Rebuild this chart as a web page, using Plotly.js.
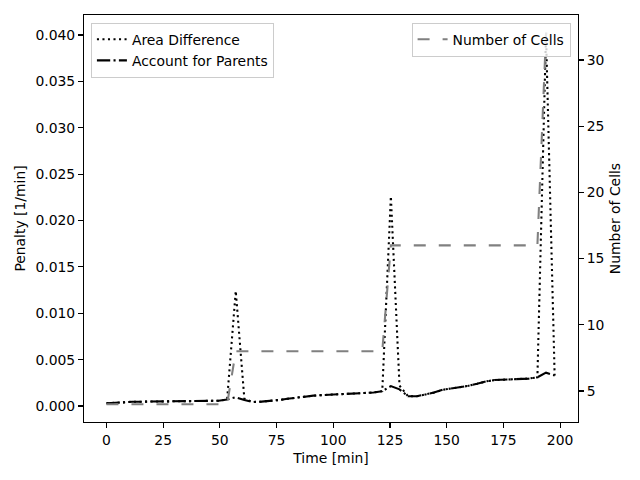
<!DOCTYPE html>
<html>
<head>
<meta charset="utf-8">
<script src="https://cdn.plot.ly/plotly-3.0.1.min.js"></script>
<style>html,body{margin:0;padding:0;background:#fff;}#chart{width:640px;height:480px;}</style>
</head>
<body>
<div id="chart"></div>
<script>
var timeMin = [0, 3.8, 7.6, 11.4, 15.2, 19, 22.8, 26.6, 30.4, 34.2, 38, 41.8, 45.6, 49.4, 53.2, 57, 60.8, 64.6, 68.4, 72.2, 76, 79.8, 83.6, 87.4, 91.2, 95, 98.8, 102.6, 106.4, 110.2, 114, 117.8, 121.6, 125.4, 129.2, 133, 136.8, 140.6, 144.4, 148.2, 152, 155.8, 159.6, 163.4, 167.2, 171, 174.8, 178.6, 182.4, 186.2, 190, 193.8, 197.6];

var areaDifference = [0.00030, 0.00032, 0.00040, 0.00046, 0.00047, 0.00047, 0.00047, 0.00046, 0.00046, 0.00047, 0.00048, 0.00050, 0.00053, 0.00057, 0.00070, 0.01240, 0.00080, 0.00043, 0.00048, 0.00055, 0.00065, 0.00078, 0.00090, 0.00104, 0.00112, 0.00118, 0.00123, 0.00128, 0.00132, 0.00136, 0.00140, 0.00146, 0.00160, 0.02260, 0.00220, 0.00105, 0.00105, 0.00122, 0.00145, 0.00175, 0.00190, 0.00200, 0.00218, 0.00240, 0.00265, 0.00280, 0.00285, 0.00290, 0.00292, 0.00296, 0.00310, 0.04010, 0.00330];

var accountForParents = [0.00030, 0.00032, 0.00040, 0.00046, 0.00047, 0.00047, 0.00047, 0.00046, 0.00046, 0.00047, 0.00048, 0.00050, 0.00053, 0.00057, 0.00070, 0.00095, 0.00065, 0.00043, 0.00048, 0.00055, 0.00065, 0.00078, 0.00090, 0.00104, 0.00112, 0.00118, 0.00123, 0.00128, 0.00132, 0.00136, 0.00140, 0.00146, 0.00160, 0.00215, 0.00180, 0.00105, 0.00105, 0.00122, 0.00145, 0.00175, 0.00190, 0.00200, 0.00218, 0.00240, 0.00265, 0.00280, 0.00285, 0.00290, 0.00292, 0.00296, 0.00310, 0.00360, 0.00330];

var numberOfCells = [4, 4, 4, 4, 4, 4, 4, 4, 4, 4, 4, 4, 4, 4, 4, 8, 8, 8, 8, 8, 8, 8, 8, 8, 8, 8, 8, 8, 8, 8, 8, 8, 8, 16, 16, 16, 16, 16, 16, 16, 16, 16, 16, 16, 16, 16, 16, 16, 16, 16, 16, 32, 32];

var xTicks = [0, 25, 50, 75, 100, 125, 150, 175, 200];
var yTicks = [0, 0.005, 0.010, 0.015, 0.020, 0.025, 0.030, 0.035, 0.040];
var y2Ticks = [5, 10, 15, 20, 25, 30];

var FONT = 'DejaVu Sans, sans-serif';
var FS = 13.9;
var LW = 2.08;

var traces = [
  {x: timeMin, y: areaDifference, name: 'Area Difference', type: 'scatter', mode: 'lines',
   line: {color: '#000000', width: LW, dash: '2.08px,3.44px'}, xaxis: 'x', yaxis: 'y', legend: 'legend'},
  {x: timeMin, y: accountForParents, name: 'Account for Parents', type: 'scatter', mode: 'lines',
   line: {color: '#000000', width: LW, dash: '13.3px,3.3px,2.08px,3.3px'}, xaxis: 'x', yaxis: 'y', legend: 'legend'},
  {x: timeMin, y: numberOfCells, name: 'Number of Cells', type: 'scatter', mode: 'lines',
   line: {color: '#808080', width: LW, dash: '12px,13px'}, xaxis: 'x', yaxis: 'y2', legend: 'legend2'}
];

var axisCommon = {
  showgrid: false, zeroline: false, showline: true, linecolor: '#000', linewidth: 1.1,
  ticks: 'outside', ticklen: 4.9, tickwidth: 1.1, tickcolor: '#000',
  tickfont: {family: FONT, size: FS, color: '#000'}
};

var layout = {
  width: 640, height: 480,
  paper_bgcolor: '#fff', plot_bgcolor: '#fff',
  margin: {l: 84, r: 62, t: 15, b: 58, pad: 0},
  font: {family: FONT, size: FS, color: '#000'},
  xaxis: Object.assign({}, axisCommon, {
    range: [-9.9, 207.9], tickmode: 'array', tickvals: xTicks, mirror: true,
    title: {text: 'Time [min]', font: {family: FONT, size: FS, color: '#000'}, standoff: 6}
  }),
  yaxis: Object.assign({}, axisCommon, {
    range: [-0.00172, 0.04216], tickmode: 'array', tickvals: yTicks, tickformat: '.3f',
    title: {text: 'Penalty [1/min]', font: {family: FONT, size: FS, color: '#000'}, standoff: 6}
  }),
  yaxis2: Object.assign({}, axisCommon, {
    range: [2.66, 33.4], tickmode: 'array', tickvals: y2Ticks, overlaying: 'y', side: 'right',
    title: {text: 'Number of Cells', font: {family: FONT, size: FS, color: '#000'}, standoff: 6}
  }),
  legend: {
    x: 0.014, y: 0.981, xanchor: 'left', yanchor: 'top', xref: 'paper', yref: 'paper',
    bgcolor: 'rgba(255,255,255,0.8)', bordercolor: '#cccccc', borderwidth: 1,
    font: {family: FONT, size: FS, color: '#000'}, tracegroupgap: 0
  },
  legend2: {
    x: 0.985, y: 0.981, xanchor: 'right', yanchor: 'top', xref: 'paper', yref: 'paper',
    bgcolor: 'rgba(255,255,255,0.8)', bordercolor: '#cccccc', borderwidth: 1,
    font: {family: FONT, size: FS, color: '#000'}
  },
  showlegend: true
};

Plotly.newPlot('chart', traces, layout, {displayModeBar: false, staticPlot: true});
</script>
</body>
</html>
